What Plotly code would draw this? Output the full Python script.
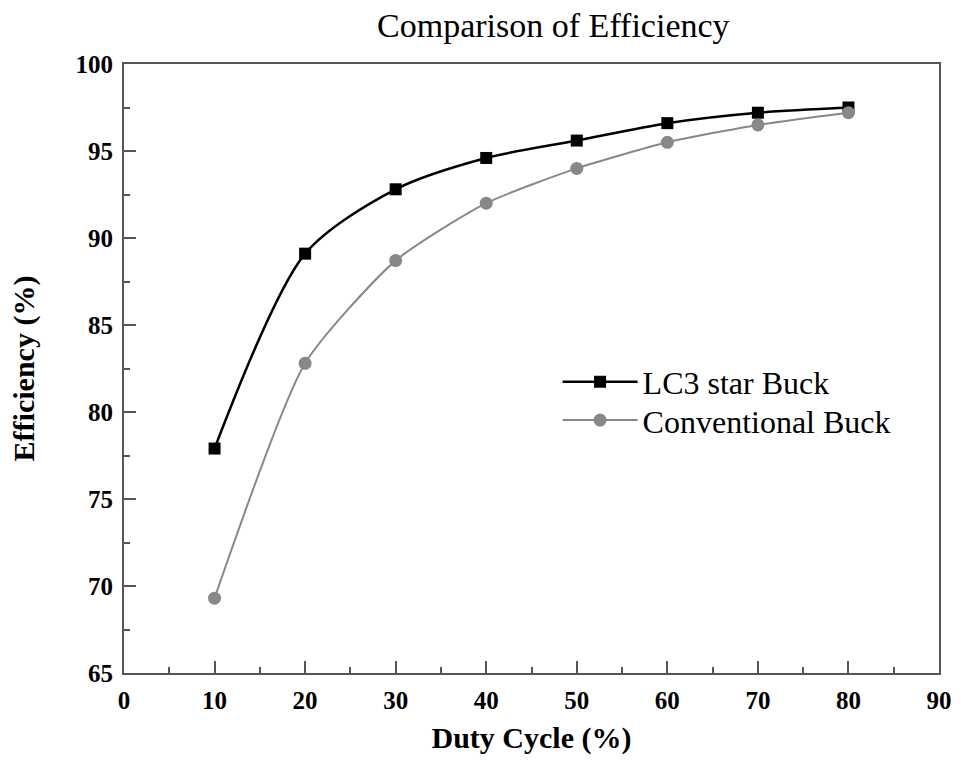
import plotly.graph_objects as go

duty = [10, 20, 30, 40, 50, 60, 70, 80]
lc3_eff = [77.9, 89.1, 92.8, 94.6, 95.6, 96.6, 97.2, 97.5]
conv_eff = [69.3, 82.8, 88.7, 92.0, 94.0, 95.5, 96.5, 97.2]

FONT = "Liberation Serif"

fig = go.Figure()
fig.add_trace(go.Scatter(
    x=duty, y=lc3_eff, name="LC3 star Buck", mode="lines+markers",
    line=dict(color="black", width=2.5, shape="spline", smoothing=0.8),
    marker=dict(symbol="square", size=12, color="black"),
    legend="legend",
))
fig.add_trace(go.Scatter(
    x=duty, y=conv_eff, name="Conventional Buck", mode="lines+markers",
    line=dict(color="#888888", width=2, shape="spline", smoothing=0.6),
    marker=dict(symbol="circle", size=13, color="#888888"),
    legend="legend2",
))

axis_common = dict(
    showline=True, linecolor="#555555", linewidth=2, mirror=True,
    ticks="inside", ticklen=12, tickwidth=2, tickcolor="#555555",
    showgrid=False, zeroline=False,
    tickfont=dict(family=FONT, size=25, color="black", weight="bold"),
)

fig.update_xaxes(
    range=[0, 90], dtick=10, tick0=0,
    minor=dict(ticks="inside", ticklen=6, dtick=5, tick0=0, tickcolor="#555555", tickwidth=2),
    title=dict(text="<b>Duty Cycle (%)</b>", font=dict(family=FONT, size=30, color="black"), standoff=14),
    ticklabelstandoff=4,
    **axis_common,
)
fig.update_yaxes(
    range=[65, 100], dtick=5, tick0=65,
    minor=dict(ticks="inside", ticklen=6, dtick=2.5, tick0=65, tickcolor="#555555", tickwidth=2),
    title=dict(text="<b>Efficiency (%)</b>", font=dict(family=FONT, size=30, color="black"), standoff=32),
    ticklabelstandoff=4,
    **axis_common,
)

leg_common = dict(xanchor="left", yanchor="middle",
                  font=dict(family=FONT, size=32, color="black"),
                  bgcolor="rgba(0,0,0,0)", itemwidth=75)

fig.update_layout(
    width=964, height=767,
    margin=dict(l=124, r=18, t=64, b=94),
    plot_bgcolor="white", paper_bgcolor="white",
    title=dict(text="Comparison of Efficiency", x=0.574, xanchor="center", y=0.967, yanchor="middle",
               font=dict(family=FONT, size=34, color="black")),
    legend=dict(x=0.532, y=0.478, **leg_common),
    legend2=dict(x=0.532, y=0.415, **leg_common),
    showlegend=True,
)

fig.write_html("out.html")
